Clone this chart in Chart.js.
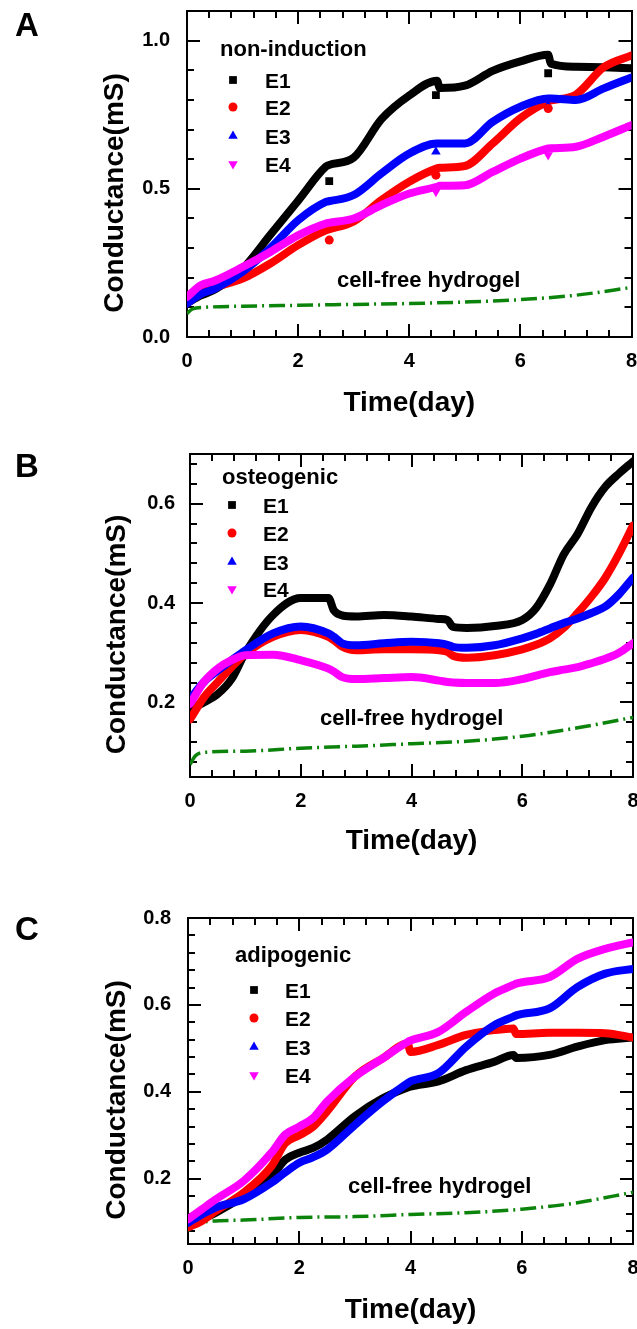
<!DOCTYPE html>
<html>
<head>
<meta charset="utf-8">
<script src="https://cdn.jsdelivr.net/npm/chart.js@4.4.1/dist/chart.umd.min.js"></script>
<style>
  html, body { margin: 0; padding: 0; background: #fff; }
  #wrap { position: relative; width: 637px; height: 1329px; overflow: hidden; }
  canvas { position: absolute; left: 0; }
</style>
</head>
<body>
<div id="wrap">
  <canvas id="panelA" width="637" height="430" style="top:0px"></canvas>
  <canvas id="panelB" width="637" height="440" style="top:430px"></canvas>
  <canvas id="panelC" width="637" height="459" style="top:870px"></canvas>
</div>
<script>
// ===== DATA =====
const seriesNames = ['E1', 'E2', 'E3', 'E4'];

// A: non-induction
const daysA = [0, 0.25, 0.5, 1, 1.5, 2, 2.5, 2.55, 3, 3.5, 4, 4.5, 4.55, 5, 5.5, 6, 6.5, 6.55, 7, 7.5, 8];
const e1A = [0.115, 0.14, 0.16, 0.23, 0.345, 0.46, 0.575, 0.58, 0.605, 0.735, 0.815, 0.865, 0.84, 0.848, 0.898, 0.93, 0.952, 0.922, 0.912, 0.91, 0.907];
const e2A = [0.125, 0.15, 0.168, 0.197, 0.248, 0.31, 0.36, 0.363, 0.39, 0.462, 0.524, 0.569, 0.571, 0.577, 0.653, 0.738, 0.795, 0.798, 0.818, 0.91, 0.95];
const e3A = [0.113, 0.145, 0.163, 0.22, 0.3, 0.394, 0.456, 0.458, 0.479, 0.552, 0.619, 0.653, 0.653, 0.653, 0.726, 0.777, 0.805, 0.805, 0.8, 0.839, 0.876];
const e4A = [0.135, 0.175, 0.19, 0.236, 0.287, 0.343, 0.383, 0.385, 0.4, 0.445, 0.484, 0.507, 0.51, 0.512, 0.557, 0.602, 0.636, 0.637, 0.642, 0.676, 0.715];
// stray readings in A
const strayDaysA = [2.56, 4.48, 6.5];
const strayE1A = [0.526, 0.816, 0.89];
const strayE2A = [0.327, 0.546, 0.771];
const strayE3A = [null, 0.625, 0.78];
const strayE4A = [null, 0.49, 0.614];

// B: osteogenic
const daysB = [0, 0.25, 0.5, 0.75, 1, 1.5, 2, 2.5, 2.6, 2.75, 3, 3.5, 4, 4.5, 4.65, 4.75, 5, 5.5, 6, 6.25, 6.5, 6.75, 7, 7.25, 7.5, 7.75, 8];
const e1B = [0.186, 0.2, 0.217, 0.247, 0.3, 0.376, 0.41, 0.41, 0.385, 0.375, 0.373, 0.376, 0.373, 0.368, 0.366, 0.352, 0.35, 0.354, 0.366, 0.39, 0.437, 0.498, 0.539, 0.593, 0.634, 0.661, 0.685];
const e2B = [0.166, 0.21, 0.241, 0.271, 0.298, 0.332, 0.346, 0.332, 0.325, 0.312, 0.305, 0.307, 0.307, 0.305, 0.302, 0.294, 0.29, 0.295, 0.307, 0.316, 0.329, 0.35, 0.38, 0.413, 0.451, 0.5, 0.556];
const e3B = [0.207, 0.241, 0.264, 0.285, 0.305, 0.339, 0.353, 0.339, 0.332, 0.319, 0.315, 0.319, 0.322, 0.319, 0.316, 0.312, 0.31, 0.315, 0.329, 0.338, 0.349, 0.36, 0.369, 0.38, 0.393, 0.418, 0.451];
const e4B = [0.197, 0.241, 0.268, 0.285, 0.295, 0.296, 0.285, 0.268, 0.262, 0.251, 0.247, 0.249, 0.251, 0.244, 0.241, 0.24, 0.239, 0.239, 0.247, 0.254, 0.261, 0.266, 0.271, 0.279, 0.288, 0.3, 0.319];

// C: adipogenic
const daysC = [0, 0.25, 0.5, 1, 1.5, 1.75, 2, 2.25, 2.5, 3, 3.5, 3.95, 4, 4.5, 5, 5.5, 5.85, 5.9, 6.5, 7, 7.5, 8];
const e1C = [0.092, 0.107, 0.122, 0.16, 0.206, 0.244, 0.26, 0.271, 0.29, 0.344, 0.385, 0.41, 0.412, 0.424, 0.45, 0.469, 0.485, 0.478, 0.485, 0.504, 0.519, 0.525];
const e2C = [0.088, 0.103, 0.126, 0.168, 0.229, 0.282, 0.3, 0.32, 0.355, 0.435, 0.477, 0.511, 0.492, 0.508, 0.531, 0.542, 0.546, 0.533, 0.536, 0.536, 0.535, 0.525];
const e3C = [0.099, 0.118, 0.134, 0.153, 0.191, 0.215, 0.237, 0.25, 0.267, 0.324, 0.378, 0.42, 0.424, 0.443, 0.504, 0.553, 0.573, 0.576, 0.592, 0.641, 0.672, 0.683];
const e4C = [0.107, 0.13, 0.153, 0.195, 0.26, 0.302, 0.32, 0.34, 0.378, 0.435, 0.477, 0.515, 0.518, 0.538, 0.584, 0.626, 0.646, 0.649, 0.664, 0.706, 0.729, 0.744];

// cell-free hydrogel (all panels)
const gelDays = [0, 0.1, 0.3, 1, 2, 3, 4, 5, 6, 7, 8];
const gelA = [0.079, 0.095, 0.1, 0.104, 0.107, 0.11, 0.113, 0.118, 0.126, 0.141, 0.167];
const gelB = [0.075, 0.093, 0.1, 0.102, 0.108, 0.112, 0.117, 0.122, 0.132, 0.149, 0.17];
const gelC = [0.08, 0.095, 0.101, 0.105, 0.111, 0.113, 0.118, 0.122, 0.13, 0.145, 0.169];

// ===== STYLE =====
const FONT = '"Liberation Sans", Arial, Helvetica, sans-serif';
Chart.defaults.font.family = FONT;
Chart.defaults.color = '#000';

const colors = ['#000000', '#ff0000', '#0000ff', '#ff00ff'];
const marks = ['rect', 'circle', 'triangle', 'triangle'];
const markTurn = [0, 0, 0, 180];
const markSize = [5.5, 4.5, 5.5, 5.5];
const gelColor = '#0c840c';

// inward tick length for every axis (major / minor)
const tickLen = { x: 13, xMinor: 7, xTop: 13, xTopMinor: 7, y: 13, yMinor: 7, yRight: 13, yRightMinor: 7 };

const toPoints = (xs, ys) => xs.map((x, i) => ({ x: x, y: ys[i] }));

// ===== PLUGINS =====
const innerTicks = {
    id: 'innerTicks',
    beforeDatasetsDraw(chart) {
        const ctx = chart.ctx;
        const a = chart.chartArea;
        ctx.save();
        ctx.strokeStyle = '#000';
        ctx.lineWidth = 2;
        ctx.beginPath();
        Object.keys(tickLen).forEach(id => {
            const s = chart.scales[id];
            if (!s) return;
            const len = tickLen[id];
            s.ticks.forEach(t => {
                const p = Math.round(s.getPixelForValue(t.value));
                if (s.position === 'bottom') { ctx.moveTo(p, a.bottom); ctx.lineTo(p, a.bottom - len); }
                else if (s.position === 'top') { ctx.moveTo(p, a.top); ctx.lineTo(p, a.top + len); }
                else if (s.position === 'left') { ctx.moveTo(a.left, p); ctx.lineTo(a.left + len, p); }
                else { ctx.moveTo(a.right, p); ctx.lineTo(a.right - len, p); }
            });
        });
        ctx.stroke();
        ctx.restore();
    }
};

// text drawn on top: panel letter, y title, legend, hydrogel note
function panelText(p) {
    return {
        id: 'panelText',
        afterDraw(chart) {
            const ctx = chart.ctx;
            const area = chart.chartArea;
            ctx.save();
            ctx.fillStyle = '#000';
            ctx.textAlign = 'left';
            ctx.textBaseline = 'alphabetic';

            ctx.font = 'bold 33px ' + FONT;
            ctx.fillText(p.letter, 15, p.letterBase);

            ctx.save();
            ctx.translate(p.yTitleX, (area.top + area.bottom) / 2 + 19);
            ctx.rotate(-Math.PI / 2);
            ctx.textAlign = 'center';
            ctx.font = 'bold 28px ' + FONT;
            ctx.fillText('Conductance(mS)', 0, 0);
            ctx.restore();

            ctx.font = 'bold 22px ' + FONT;
            ctx.fillText(p.group, p.groupX, p.groupBase);
            ctx.fillText('cell-free hydrogel', p.gelX, p.gelBase);

            ctx.font = 'bold 21px ' + FONT;
            seriesNames.forEach((name, i) => {
                const y = p.legendY[i];
                ctx.fillStyle = colors[i];
                Chart.helpers.drawPoint(ctx, {
                    pointStyle: marks[i], rotation: markTurn[i],
                    radius: markSize[i], borderWidth: 0
                }, p.markX, y);
                ctx.fillStyle = '#000';
                ctx.fillText(name, p.textX, y + 7.5);
            });
            ctx.restore();
        }
    };
}

function buildScales(p) {
    const tickFont = { size: 20, weight: 'bold' };
    const grid = { drawOnChartArea: false, drawTicks: false, lineWidth: 2, color: '#000' };
    const frame = { display: true, color: '#000', width: 2 };
    const none = { display: false };
    const flat = s => { s.height = 0; s.paddingLeft = 0; s.paddingRight = 0; };
    const thin = s => { s.width = 0; s.paddingTop = 0; s.paddingBottom = 0; };
    const xRange = { type: 'linear', min: 0, max: 8 };
    const yRange = { type: 'linear', min: p.yMin, max: p.yMax };

    return {
        x: Object.assign({}, xRange, {
            position: 'bottom', weight: 1,
            ticks: { stepSize: 2, padding: 12, font: tickFont, includeBounds: false, autoSkip: false, maxRotation: 0 },
            grid: grid, border: frame,
            title: { display: true, text: 'Time(day)', font: { size: 28, weight: 'bold' }, padding: { top: 0, bottom: p.xTitlePad } },
            afterFit: s => { s.height = p.xHeight; s.paddingLeft = 0; s.paddingRight = 0; }
        }),
        xMinor: Object.assign({}, xRange, {
            position: 'bottom', weight: 0,
            ticks: { stepSize: 0.4, display: false, includeBounds: false },
            grid: grid, border: none, afterFit: flat
        }),
        xTop: Object.assign({}, xRange, {
            position: 'top', weight: 1,
            ticks: { stepSize: 2, display: false, includeBounds: false },
            grid: grid, border: frame, afterFit: flat
        }),
        xTopMinor: Object.assign({}, xRange, {
            position: 'top', weight: 0,
            ticks: { stepSize: 0.4, display: false, includeBounds: false },
            grid: grid, border: none, afterFit: flat
        }),
        y: Object.assign({}, yRange, {
            position: 'left', weight: 1,
            ticks: { stepSize: p.yMajor, padding: p.yTickPad, font: tickFont, includeBounds: false, autoSkip: false, callback: v => v.toFixed(1) },
            grid: grid, border: frame,
            afterFit: s => { s.width = p.yWidth; s.paddingTop = 0; s.paddingBottom = 0; }
        }),
        yMinor: Object.assign({}, yRange, {
            position: 'left', weight: 0,
            ticks: { stepSize: p.yMinor, display: false, includeBounds: false },
            grid: grid, border: none, afterFit: thin
        }),
        yRight: Object.assign({}, yRange, {
            position: 'right', weight: 1,
            ticks: { stepSize: p.yMajor, display: false, includeBounds: false },
            grid: grid, border: frame, afterFit: thin
        }),
        yRightMinor: Object.assign({}, yRange, {
            position: 'right', weight: 0,
            ticks: { stepSize: p.yMinor, display: false, includeBounds: false },
            grid: grid, border: none, afterFit: thin
        })
    };
}

function crearPanel(canvasId, p) {
    const ctx = document.getElementById(canvasId);
    if (!ctx) return;

    const datasets = p.series.map((ys, i) => ({
        label: seriesNames[i],
        data: toPoints(p.days, ys),
        borderColor: colors[i],
        backgroundColor: colors[i],
        borderWidth: 8,
        borderJoinStyle: 'round',
        borderCapStyle: 'round',
        pointRadius: 0,
        pointStyle: marks[i],
        cubicInterpolationMode: 'monotone',
        order: 4 - i
    }));

    datasets.push({
        label: 'cell-free hydrogel',
        data: toPoints(gelDays, p.gel),
        borderColor: gelColor,
        borderWidth: 3.5,
        borderDash: [16, 5, 2, 5],
        pointRadius: 0,
        cubicInterpolationMode: 'monotone',
        order: 5
    });

    (p.strays || []).forEach((ys, i) => {
        datasets.push({
            label: seriesNames[i] + ' stray',
            data: toPoints(p.strayDays, ys),
            showLine: false,
            pointStyle: marks[i],
            pointRotation: markTurn[i],
            pointRadius: markSize[i],
            pointBackgroundColor: colors[i],
            pointBorderWidth: 0,
            order: 0
        });
    });

    new Chart(ctx, {
        type: 'line',
        data: { datasets: datasets },
        options: {
            responsive: false,
            animation: false,
            events: [],
            layout: { padding: { left: 0, right: p.padRight, top: p.padTop, bottom: 0 } },
            scales: buildScales(p),
            plugins: {
                legend: { display: false },
                tooltip: { enabled: false }
            }
        },
        plugins: [innerTicks, panelText(p)]
    });
}

crearPanel('panelA', {
    days: daysA, series: [e1A, e2A, e3A, e4A], gel: gelA,
    strayDays: strayDaysA, strays: [strayE1A, strayE2A, strayE3A, strayE4A],
    yMin: 0, yMax: 1.1, yMajor: 0.5, yMinor: 0.1, yTickPad: 17,
    padTop: 11, padRight: 5, yWidth: 187, xHeight: 93, xTitlePad: 10,
    letter: 'A', letterBase: 36, yTitleX: 123,
    group: 'non-induction', groupX: 220, groupBase: 56,
    markX: 233, textX: 265, legendY: [80, 107, 136, 164],
    gelX: 337, gelBase: 287
});

crearPanel('panelB', {
    days: daysB, series: [e1B, e2B, e3B, e4B], gel: gelB,
    yMin: 0.05, yMax: 0.7, yMajor: 0.2, yMinor: 0.04, yTickPad: 15,
    padTop: 24, padRight: 4, yWidth: 190, xHeight: 93, xTitlePad: 12,
    letter: 'B', letterBase: 47, yTitleX: 125,
    group: 'osteogenic', groupX: 222, groupBase: 54,
    markX: 232, textX: 263, legendY: [75, 103, 132, 159],
    gelX: 320, gelBase: 295
});

crearPanel('panelC', {
    days: daysC, series: [e1C, e2C, e3C, e4C], gel: gelC,
    yMin: 0.05, yMax: 0.8, yMajor: 0.2, yMinor: 0.04, yTickPad: 17,
    padTop: 48, padRight: 4, yWidth: 188, xHeight: 85, xTitlePad: 2,
    letter: 'C', letterBase: 70, yTitleX: 125,
    group: 'adipogenic', groupX: 235, groupBase: 92,
    markX: 254, textX: 285, legendY: [120, 148, 177, 205],
    gelX: 348, gelBase: 323
});
</script>
</body>
</html>
